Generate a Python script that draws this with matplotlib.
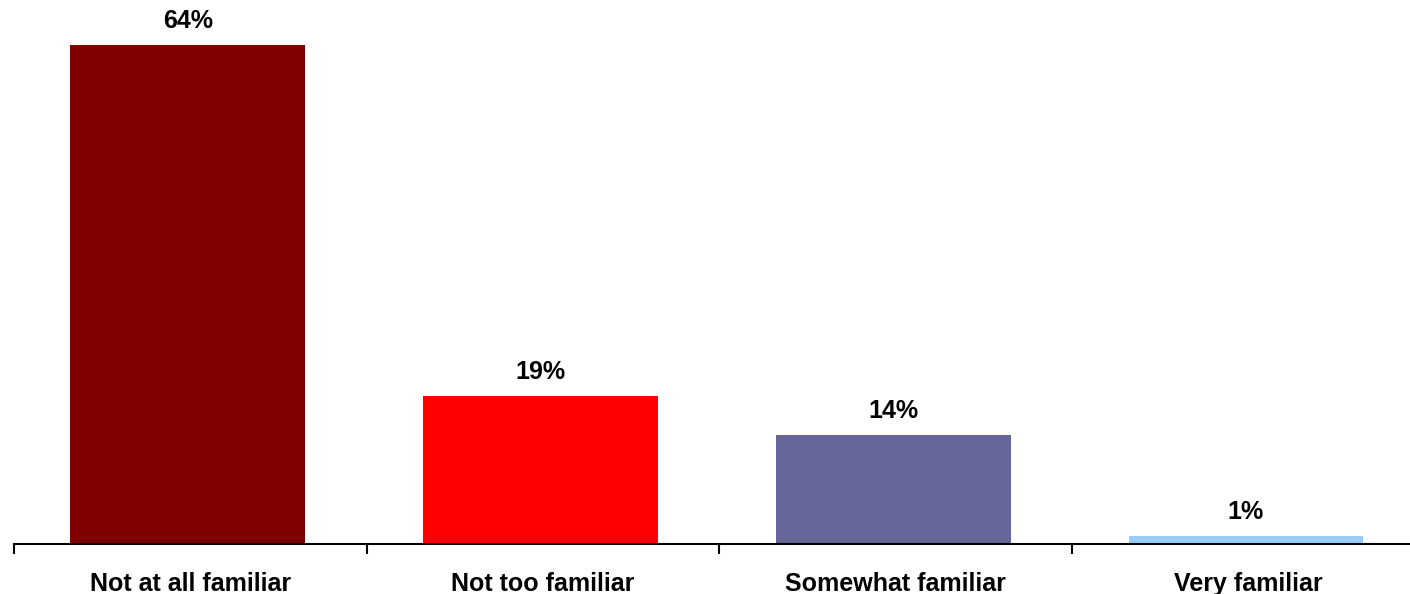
import numpy as np
import matplotlib.pyplot as plt

categories = ["Not at all familiar", "Not too familiar", "Somewhat familiar", "Very familiar"]
values = [64, 19, 14, 1]
labels = ["64%", "19%", "14%", "1%"]
colors = ["#800000", "#FF0000", "#666699", "#99CCFF"]

plt.rcParams['font.family'] = ['Liberation Sans', 'DejaVu Sans']

fig = plt.figure(figsize=(14.1, 5.94), dpi=100)
ax = fig.add_axes([14 / 1410, 50 / 594, 1396 / 1410, 544 / 594])

# bars sit a touch left of the category centre, as in the original
x = np.arange(len(categories)) + 0.493
ax.bar(x, values, width=0.666, color=colors, zorder=2)

for xi, v, lab in zip(x, values, labels):
    ax.annotate(lab, (xi, v), xytext=(0, 12), textcoords='offset pixels',
                ha='center', va='bottom', fontsize=18, fontweight='bold')

ax.set_xlim(0, 3.958)
ax.set_ylim(0, 69.8)

# category boundaries as ticks, names in the middle
ax.set_xticks(np.arange(len(categories)))
ax.set_xticklabels([])
ax.tick_params(axis='x', length=7, width=1.5, direction='out')
ax.set_xticks(np.arange(len(categories)) + 0.5, minor=True)
ax.set_xticklabels(categories, minor=True, fontsize=18, fontweight='bold')
ax.tick_params(axis='x', which='minor', length=0, pad=20)

ax.set_yticks([])
for side in ['left', 'right', 'top']:
    ax.spines[side].set_visible(False)
ax.spines['bottom'].set_linewidth(1.5)

fig.savefig("out.png", dpi=100, facecolor='white')
